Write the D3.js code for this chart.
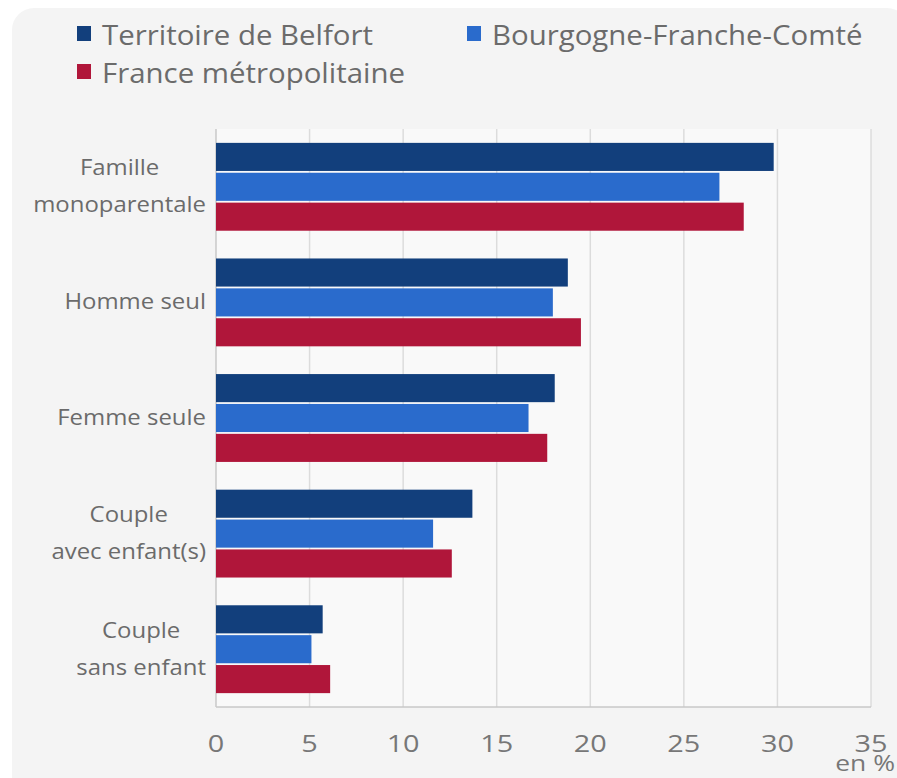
<!DOCTYPE html>
<html>
<head>
<meta charset="utf-8">
<script src="https://cdn.jsdelivr.net/npm/d3@7"></script>
<style>
  body { margin: 0; background: #fff; overflow: hidden; }
  svg { display: block; font-family: "Open Sans", sans-serif; }
</style>
</head>
<body>
<svg id="chart" width="897" height="778"></svg>
<script>
// categories (top to bottom)
const categories = [
    ["Famille", "monoparentale"],
    ["Homme seul"],
    ["Femme seule"],
    ["Couple", "avec enfant(s)"],
    ["Couple", "sans enfant"]
];

const seriesNames = ["Territoire de Belfort", "Bourgogne-Franche-Comté", "France métropolitaine"];
const seriesColors = ["#123f7c", "#2a6bcc", "#b0163a"];

// values in %, one array per series
const belfort = [29.8, 18.8, 18.1, 13.7, 5.7];
const bfc     = [26.9, 18.0, 16.7, 11.6, 5.1];
const france  = [28.2, 19.5, 17.7, 12.6, 6.1];

const xTicks = [0, 5, 10, 15, 20, 25, 30, 35];

const series = [belfort, bfc, france];

// the original picture is a bit stretched horizontally
const widen = (sel, k) => sel
    .attr("textLength", function() { return this.getComputedTextLength() * k; })
    .attr("lengthAdjust", "spacingAndGlyphs");

const svg = d3.select("#chart");

// panel background
svg.append("rect")
    .attr("x", 12).attr("y", 8)
    .attr("width", 897).attr("height", 790)
    .attr("rx", 22)
    .attr("fill", "#f4f4f4");

const margin = {left: 216, right: 26, top: 129, bottom: 71};
const innerWidth = 897 - margin.left - margin.right;
const innerHeight = 778 - margin.top - margin.bottom;

const inner = svg.append("g")
    .attr("transform", `translate(${margin.left},${margin.top})`);

inner.append("rect")
    .attr("width", innerWidth)
    .attr("height", innerHeight)
    .attr("fill", "#f9f9f9");

const xScale = d3.scaleLinear()
    .domain([0, 35])
    .range([0, innerWidth]);

const yScale = d3.scaleBand()
    .domain(d3.range(categories.length))
    .range([0, innerHeight])
    .paddingInner(0.24)
    .paddingOuter(0.12);

const ySub = d3.scaleBand()
    .domain(d3.range(series.length))
    .range([0, yScale.bandwidth()])
    .paddingInner(0.06);

// grid
inner.selectAll(".grid")
    .data(xTicks)
    .join("line")
    .attr("class", "grid")
    .attr("x1", d => xScale(d)).attr("x2", d => xScale(d))
    .attr("y1", 0).attr("y2", innerHeight)
    .attr("stroke", d => d === 0 ? "#c8c8c8" : "#dcdcdc")
    .attr("stroke-width", 1.5);

// bottom axis line
inner.append("line")
    .attr("x1", 0).attr("x2", innerWidth)
    .attr("y1", innerHeight).attr("y2", innerHeight)
    .attr("stroke", "#c8c8c8")
    .attr("stroke-width", 1.5);

// bars
const groups = inner.selectAll(".group")
    .data(categories)
    .join("g")
    .attr("class", "group")
    .attr("transform", (d, i) => `translate(0,${yScale(i)})`);

groups.selectAll("rect")
    .data((d, i) => series.map((s, j) => ({value: s[i], j})))
    .join("rect")
    .attr("x", 0)
    .attr("y", d => ySub(d.j))
    .attr("width", d => xScale(d.value))
    .attr("height", ySub.bandwidth())
    .attr("fill", d => seriesColors[d.j]);

// category labels: lines centred on each other, block right-aligned
groups.each(function(lines) {
    const g = d3.select(this);
    const texts = g.selectAll(".cat-label")
        .data(lines.map((line, k) => ({line, k, n: lines.length})))
        .join("text")
        .attr("class", "cat-label")
        .attr("y", d => yScale.bandwidth() / 2 + 7 + (d.k - (d.n - 1) / 2) * 37)
        .attr("text-anchor", "middle")
        .attr("fill", "#6b6b6b")
        .attr("font-size", "21px")
        .text(d => d.line)
        .call(widen, 1.14);
    const maxW = d3.max(texts.nodes(), n => +n.getAttribute("textLength"));
    texts.attr("x", -10 - maxW / 2);
});

// x tick labels
inner.selectAll(".tick-label")
    .data(xTicks)
    .join("text")
    .attr("class", "tick-label")
    .attr("x", d => xScale(d))
    .attr("y", innerHeight + 45)
    .attr("text-anchor", "middle")
    .attr("fill", "#777")
    .attr("font-size", "24px")
    .text(d => d)
    .call(widen, 1.2);

inner.append("text")
    .attr("x", innerWidth + 24)
    .attr("y", innerHeight + 64)
    .attr("text-anchor", "end")
    .attr("fill", "#777")
    .attr("font-size", "22px")
    .text("en %")
    .call(widen, 1.2);

// legend
const legendPos = [[77, 45], [467, 45], [77, 83]];

const legend = svg.selectAll(".legend")
    .data(seriesNames)
    .join("g")
    .attr("class", "legend")
    .attr("transform", (d, i) => `translate(${legendPos[i][0]},${legendPos[i][1]})`);

legend.append("rect")
    .attr("x", 0).attr("y", -19)
    .attr("width", 14).attr("height", 15)
    .attr("fill", (d, i) => seriesColors[i]);

legend.append("text")
    .attr("x", 25)
    .attr("fill", "#6b6b6b")
    .attr("font-size", "28px")
    .text(d => d)
    .call(widen, 1.05);
</script>
</body>
</html>
